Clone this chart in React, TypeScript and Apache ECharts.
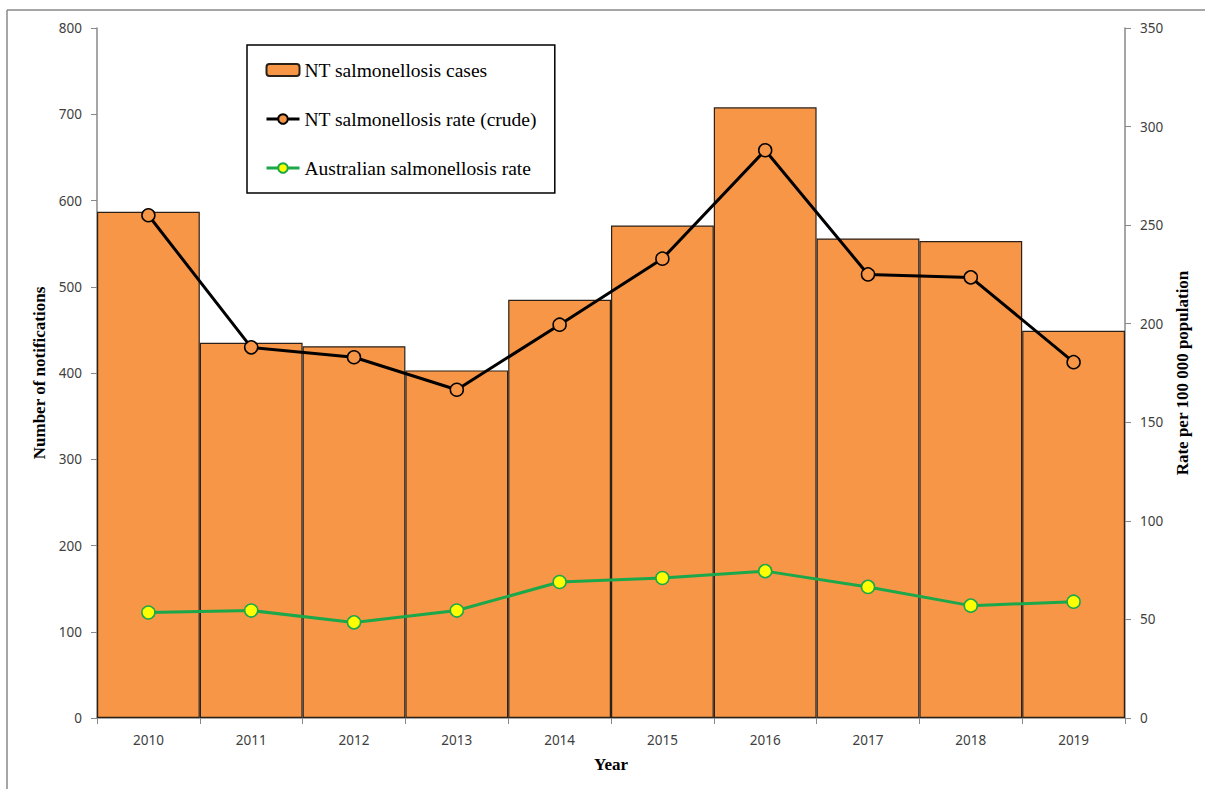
import React, { useEffect, useRef } from "react";
import * as echarts from "echarts";

const years = ["2010", "2011", "2012", "2013", "2014", "2015", "2016", "2017", "2018", "2019"];
const ntCases = [587, 435, 431, 403, 485, 571, 708, 556, 553, 449];
const ntRate = [255, 188, 183, 166.5, 199.5, 233, 288, 225, 223.5, 180.5];
const ausRate = [53.5, 54.5, 48.5, 54.5, 69, 71, 74.5, 66.5, 57, 59];
const leftTicks = { min: 0, max: 800, interval: 100 };
const rightTicks = { min: 0, max: 350, interval: 50 };

const SERIF = "Liberation Serif";
const tickFont = { fontFamily: "Noto Sans", fontSize: 13.5, color: "#404040" };
const titleFont = { fontFamily: SERIF, fontSize: 17, fontWeight: "bold" as const, color: "#000" };
const legendText = { fontFamily: SERIF, fontSize: 19.5, color: "#000" };

export default function App() {
  const ref = useRef<HTMLDivElement>(null);
  useEffect(() => {
    const chart = echarts.init(ref.current!, null, { renderer: "svg" });
    chart.setOption({
      animation: false,
      backgroundColor: "#fff",
      textStyle: { fontFamily: SERIF },
      graphic: [
        { type: "line", shape: { x1: 7, y1: 10, x2: 1205, y2: 10 }, style: { stroke: "#888", lineWidth: 1.5 } },
        { type: "line", shape: { x1: 7, y1: 10, x2: 7, y2: 789 }, style: { stroke: "#888", lineWidth: 1.5 } },
      ],
      grid: { left: 97, right: 80, top: 28, bottom: 71 },
      legend: {
        orient: "vertical",
        left: 247,
        top: 45,
        padding: [15, 18, 15, 18],
        itemGap: 29,
        itemWidth: 33,
        itemHeight: 12,
        borderColor: "#000",
        borderWidth: 1.5,
        textStyle: legendText,
        lineStyle: { width: 3 },
        data: [
          { name: "NT salmonellosis cases", textStyle: legendText },
          { name: "NT salmonellosis rate (crude)", textStyle: legendText },
          { name: "Australian salmonellosis rate", textStyle: legendText },
        ],
      },
      xAxis: {
        type: "category",
        data: years,
        boundaryGap: true,
        name: "Year",
        nameLocation: "middle",
        nameGap: 38,
        nameTextStyle: titleFont,
        axisLine: { lineStyle: { color: "#888", width: 1.5 } },
        axisTick: { show: true, length: 6, lineStyle: { color: "#888" } },
        axisLabel: { ...tickFont, margin: 15 },
        splitLine: { show: false },
      },
      yAxis: [
        {
          type: "value",
          ...leftTicks,
          position: "left",
          name: "Number of notifications",
          nameLocation: "middle",
          nameGap: 47,
          nameRotate: 90,
          nameTextStyle: titleFont,
          axisLine: { show: true, lineStyle: { color: "#888", width: 1.5 } },
          axisTick: { show: true, length: 6, lineStyle: { color: "#888" } },
          axisLabel: { ...tickFont, margin: 15 },
          splitLine: { show: false },
        },
        {
          type: "value",
          ...rightTicks,
          position: "right",
          name: "Rate per 100 000 population",
          nameLocation: "middle",
          nameGap: 49,
          nameRotate: 90,
          nameTextStyle: titleFont,
          axisLine: { show: true, lineStyle: { color: "#888", width: 1.5 } },
          axisTick: { show: true, length: 6, lineStyle: { color: "#888" } },
          axisLabel: { ...tickFont, margin: 15 },
          splitLine: { show: false },
        },
      ],
      series: [
        {
          name: "NT salmonellosis cases",
          type: "bar",
          yAxisIndex: 0,
          data: ntCases,
          barCategoryGap: 0,
          itemStyle: { color: "#F79646", borderColor: "#2b2118", borderWidth: 1.2 },
          z: 1,
        },
        {
          name: "NT salmonellosis rate (crude)",
          type: "line",
          yAxisIndex: 1,
          data: ntRate,
          symbol: "circle",
          symbolSize: 13,
          lineStyle: { color: "#000", width: 3 },
          itemStyle: { color: "#F79646", borderColor: "#000", borderWidth: 1.5 },
          z: 3,
        },
        {
          name: "Australian salmonellosis rate",
          type: "line",
          yAxisIndex: 1,
          data: ausRate,
          symbol: "circle",
          symbolSize: 13,
          lineStyle: { color: "#1AA84A", width: 3 },
          itemStyle: { color: "#FFFF00", borderColor: "#1AA84A", borderWidth: 1.5 },
          z: 3,
        },
      ],
    });
    return () => chart.dispose();
  }, []);
  return <div ref={ref} style={{ position: "fixed", left: 0, top: 0, width: 1205, height: 789 }} />;
}
